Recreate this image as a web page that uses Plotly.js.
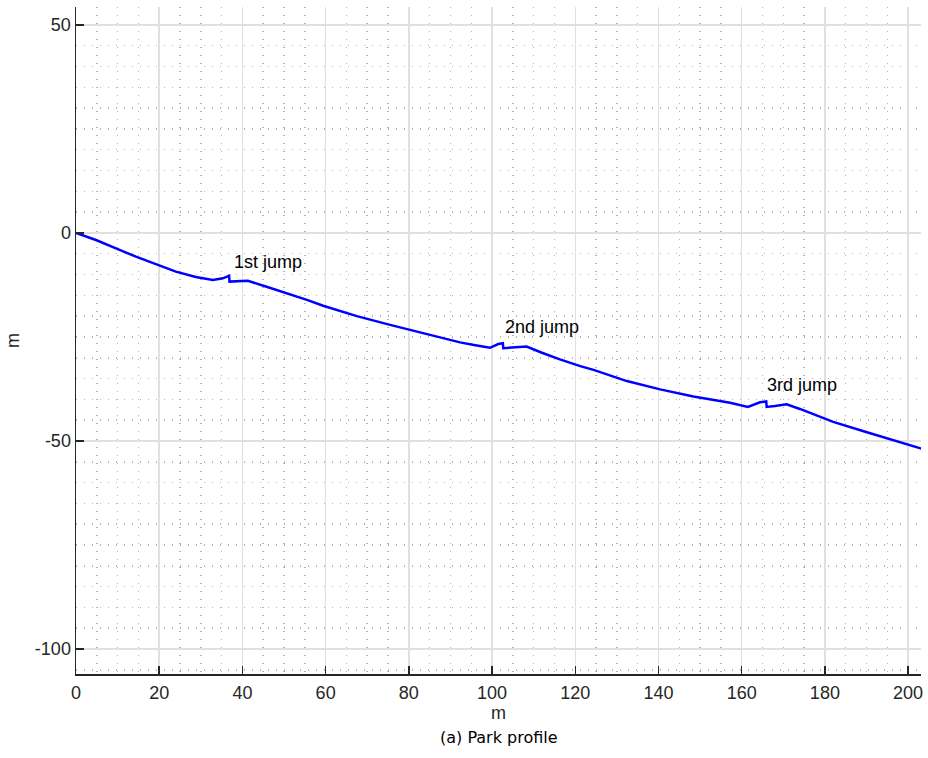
<!DOCTYPE html>
<html>
<head>
<meta charset="utf-8">
<script src="https://cdn.plot.ly/plotly-3.0.1.min.js"></script>
<style>html,body{margin:0;padding:0;background:#fff;}#chart{width:928px;height:758px;}</style>
</head>
<body>
<div id="chart"></div>
<script>
// Park profile (horizontal distance in m, elevation in m)
const profileX = [0, 4.8, 9.6, 14.4, 19.2, 24, 28.8, 32.9, 35.3, 36.5, 36.8, 36.9, 38.5, 41.3, 46, 51.4, 55.5, 59.4, 67.5, 75.5, 83.5, 87.5, 92.3, 96, 99.5, 101.5, 102.6, 102.7, 105, 108.3, 112, 116.3, 121.2, 124.4, 132.4, 140.4, 148.4, 150, 157.2, 161.5, 164.4, 165.9, 166.0, 168, 170.8, 174, 178, 182, 190.1, 198.1, 203.4];
const profileY = [0, -1.7, -3.7, -5.7, -7.5, -9.3, -10.6, -11.3, -10.9, -10.5, -10.3, -11.7, -11.6, -11.5, -13.0, -14.7, -16.1, -17.5, -20.0, -22.1, -24.1, -25.2, -26.3, -27.0, -27.6, -26.7, -26.5, -27.7, -27.6, -27.3, -28.8, -30.4, -32.0, -32.9, -35.6, -37.6, -39.3, -39.6, -40.8, -41.8, -40.7, -40.5, -41.8, -41.6, -41.2, -42.3, -43.8, -45.4, -47.9, -50.2, -51.9];

const jumpLabels = ["1st jump", "2nd jump", "3rd jump"];
const jumpLabelX = [37.5, 102.6, 165.6];
const jumpLabelY = [-7.0, -22.6, -36.5];

const xTickVals = [0, 20, 40, 60, 80, 100, 120, 140, 160, 180, 200];
const xTickText = ["0", "20", "40", "60", "80", "100", "120", "140", "160", "180", "200"];
const yTickVals = [-100, -50, 0, 50];
const yTickText = ["-100", "-50", "0", "50"];
const xTitle = "m";
const yTitle = "m";
const caption = "(a) Park profile";

const font = "Liberation Sans, Arial, sans-serif";

const trace = {
  x: profileX, y: profileY, type: "scatter", mode: "lines",
  line: {color: "#0000ff", width: 2.5}, hoverinfo: "skip", showlegend: false
};

const annotations = jumpLabels.map((t, i) => ({
  x: jumpLabelX[i], y: jumpLabelY[i], xref: "x", yref: "y", text: t,
  showarrow: false, xanchor: "left", yanchor: "middle",
  font: {family: font, size: 18, color: "#000"}
}));
annotations.push({
  x: 0.5, y: -0.095, xref: "paper", yref: "paper", text: caption,
  showarrow: false, xanchor: "center", yanchor: "middle",
  font: {family: "DejaVu Sans, sans-serif", size: 16, color: "#000"}
});

const minorGrid = {dtick: 5, tick0: 0, showgrid: true, gridcolor: "#b4b4b4", gridwidth: 1.5, griddash: "1px,7px", ticks: ""};

const layout = {
  width: 928, height: 758,
  margin: {l: 76, r: 7, t: 7, b: 84},
  paper_bgcolor: "#fff", plot_bgcolor: "#fff",
  font: {family: font, size: 18, color: "#262626"},
  xaxis: {
    range: [0, 203.1], tickvals: xTickVals, ticktext: xTickText, ticks: "inside", ticklen: 8, tickwidth: 1.5,
    tickcolor: "#262626", showline: true, linecolor: "#262626", linewidth: 1.5,
    showgrid: true, gridcolor: "#e0e0e0", gridwidth: 1.5, zeroline: false, mirror: false,
    ticklabelstandoff: 2,
    minor: minorGrid,
    title: {text: xTitle, font: {family: font, size: 18, color: "#262626"}, standoff: 2}
  },
  yaxis: {
    range: [-106, 54.3], tickvals: yTickVals, ticktext: yTickText, ticks: "inside", ticklen: 8, tickwidth: 1.5,
    tickcolor: "#262626", showline: true, linecolor: "#262626", linewidth: 1.5,
    showgrid: true, gridcolor: "#e0e0e0", gridwidth: 1.5, zeroline: false, mirror: false,
    minor: minorGrid,
    title: {text: yTitle, font: {family: font, size: 18, color: "#262626"}, standoff: 10}
  },
  annotations: annotations
};

Plotly.newPlot("chart", [trace], layout, {staticPlot: true, displayModeBar: false});
</script>
</body>
</html>
